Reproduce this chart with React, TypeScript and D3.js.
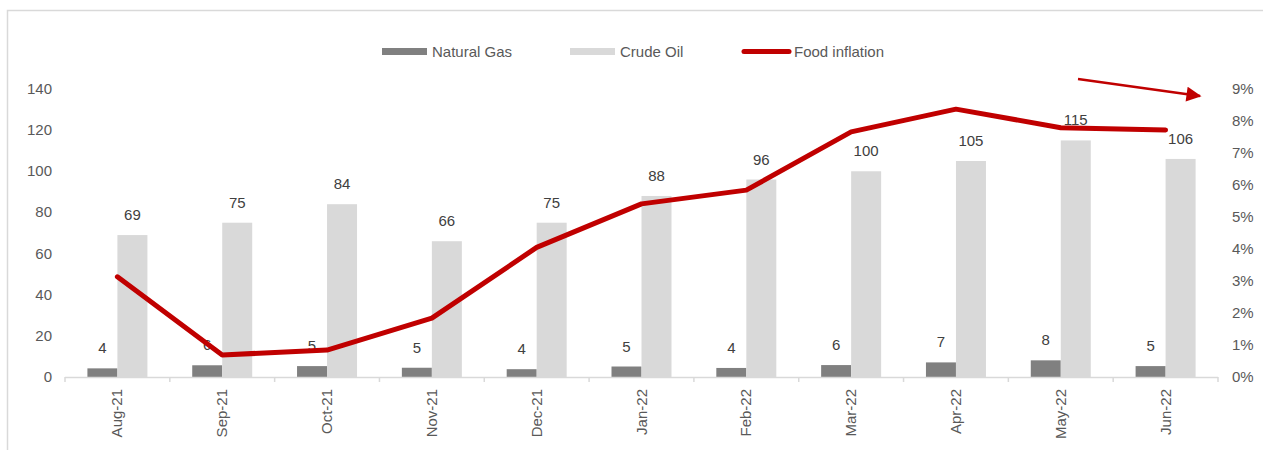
import React from "react";
import * as d3 from "d3";

const months = ["Aug-21", "Sep-21", "Oct-21", "Nov-21", "Dec-21", "Jan-22", "Feb-22", "Mar-22", "Apr-22", "May-22", "Jun-22"];
const naturalGas = [4.2, 5.7, 5.3, 4.5, 3.8, 5.1, 4.4, 5.8, 7.1, 8.1, 5.3];
const crudeOil = [69, 75, 84, 66, 75, 88, 96, 100, 105, 115, 106];
const foodInflation = [0.0313, 0.0069, 0.0084, 0.0184, 0.0405, 0.0541, 0.0584, 0.0766, 0.0837, 0.0779, 0.0772];
const leftTicks = [0, 20, 40, 60, 80, 100, 120, 140];
const rightTicks = [0, 0.01, 0.02, 0.03, 0.04, 0.05, 0.06, 0.07, 0.08, 0.09];
const seriesNames = ["Natural Gas", "Crude Oil", "Food inflation"];

const W = 1263;
const H = 450;
const FONT = "'Liberation Sans', Arial, sans-serif";
const TXT = "#595959";
const GAS = "#808080";
const OIL = "#d9d9d9";
const RED = "#c00000";
const AXIS = "#d9d9d9";

export default function App() {
  const x = d3.scaleBand<string>().domain(months).range([65, 1218]).paddingInner(0).paddingOuter(0);
  const bw = x.bandwidth();
  const sub = d3.scaleBand<string>().domain(["gas", "oil"]).range([0, bw]).paddingInner(0).paddingOuter((bw / 30 - 2) / 2);
  const yL = d3.scaleLinear().domain([0, 140]).range([377, 89]);
  const yR = d3.scaleLinear().domain([0, 0.09]).range([377, 89]);
  const pct = d3.format(".0%");
  const num = d3.format(".0f");

  const line = d3
    .line<number>()
    .x((_, i) => (x(months[i]) as number) + bw / 2)
    .y((d) => yR(d));

  const ticksX = months.map((m) => x(m) as number).concat([1218]);

  return (
    <svg width={W} height={H} style={{ position: "absolute", left: 0, top: 0, fontFamily: FONT }}>
      <defs>
        <marker id="arrowHead" viewBox="0 0 10 10" refX="9" refY="5" markerWidth="6.5" markerHeight="6" orient="auto" markerUnits="strokeWidth">
          <path d="M0,0 L10,5 L0,10 z" fill={RED} />
        </marker>
      </defs>
      <rect x={7.5} y={10.5} width={W} height={H} fill="white" stroke={AXIS} strokeWidth={1.5} />

      {/* legend */}
      <g fontSize={15} fill={TXT}>
        <rect x={382} y={48} width={45} height={7} fill={GAS} />
        <text x={432} y={57}>{seriesNames[0]}</text>
        <rect x={570} y={48} width={45} height={7} fill={OIL} />
        <text x={620} y={57}>{seriesNames[1]}</text>
        <line x1={744} x2={789} y1={51.5} y2={51.5} stroke={RED} strokeWidth={5} strokeLinecap="round" />
        <text x={794} y={57}>{seriesNames[2]}</text>
      </g>

      {/* left axis labels */}
      <g fontSize={15} fill={TXT} textAnchor="end">
        {leftTicks.map((t) => (
          <text key={t} x={52} y={yL(t) + 5}>
            {t}
          </text>
        ))}
      </g>
      {/* right axis labels */}
      <g fontSize={15} fill={TXT} textAnchor="start">
        {rightTicks.map((t) => (
          <text key={t} x={1232} y={yR(t) + 5}>
            {pct(t)}
          </text>
        ))}
      </g>

      {/* bars */}
      {months.map((m, i) => {
        const bx = x(m) as number;
        return (
          <g key={m}>
            <rect x={bx + (sub("gas") as number)} y={yL(naturalGas[i])} width={sub.bandwidth()} height={yL(0) - yL(naturalGas[i])} fill={GAS} />
            <rect x={bx + (sub("oil") as number)} y={yL(crudeOil[i])} width={sub.bandwidth()} height={yL(0) - yL(crudeOil[i])} fill={OIL} />
          </g>
        );
      })}

      {/* x axis */}
      <line x1={65} x2={1218} y1={377.5} y2={377.5} stroke={AXIS} strokeWidth={1.5} />
      {ticksX.map((t, i) => (
        <line key={i} x1={t} x2={t} y1={377} y2={382} stroke={AXIS} strokeWidth={1.5} />
      ))}

      {/* data labels */}
      <g fontSize={15} fill={"#404040"} textAnchor="middle">
        {months.map((m, i) => {
          const bx = x(m) as number;
          return (
            <g key={m}>
              <text x={bx + (sub("gas") as number) + sub.bandwidth() / 2} y={yL(naturalGas[i]) - 15}>
                {num(naturalGas[i])}
              </text>
              <text x={bx + (sub("oil") as number) + sub.bandwidth() / 2} y={yL(crudeOil[i]) - 15}>
                {num(crudeOil[i])}
              </text>
            </g>
          );
        })}
      </g>

      {/* line */}
      <path d={line(foodInflation) || ""} fill="none" stroke={RED} strokeWidth={5} strokeLinejoin="round" strokeLinecap="round" />

      {/* x labels */}
      <g fontSize={15} fill={TXT} textAnchor="end">
        {months.map((m) => {
          const cx = (x(m) as number) + bw / 2 + 5;
          return (
            <text key={m} transform={`translate(${cx},389) rotate(-90)`}>
              {m}
            </text>
          );
        })}
      </g>

      {/* arrow */}
      <line x1={1078} y1={79} x2={1200} y2={96} stroke={RED} strokeWidth={2.5} markerEnd="url(#arrowHead)" />
    </svg>
  );
}
